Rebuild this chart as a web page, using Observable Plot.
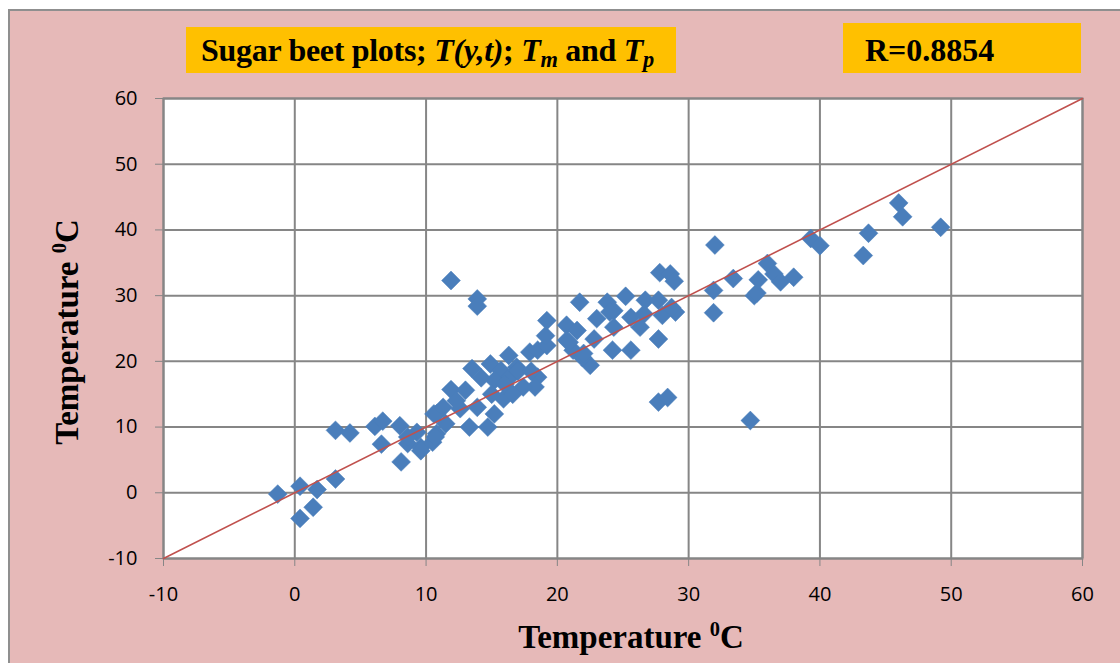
<!DOCTYPE html>
<html>
<head>
<meta charset="utf-8">
<script src="https://cdn.jsdelivr.net/npm/d3@7"></script>
<script src="https://cdn.jsdelivr.net/npm/@observablehq/plot@0.6"></script>
<style>
  html, body { margin: 0; padding: 0; background: #ffffff; }
  #wrap { position: relative; width: 1120px; height: 663px; overflow: hidden; background: #ffffff; }
  #panel { position: absolute; left: 8px; top: 9px; width: 1112px; height: 654px;
           background: #e6b9b8; border-top: 2px solid #8f8f8f; border-left: 2px solid #8f8f8f; box-sizing: border-box; }
  #chart { position: absolute; left: 0; top: 0; }
  .box { position: absolute; background: #ffc000; font-family: "Liberation Serif", "Times New Roman", serif;
         font-weight: bold; color: #000; white-space: nowrap; }
  #t1 { left: 186px; top: 27px; width: 490px; height: 46px; font-size: 32px; line-height: 46px; padding-left: 15px; box-sizing: border-box; letter-spacing: -0.3px; }
  #t2 { left: 843px; top: 23px; width: 238px; height: 50px; font-size: 32px; line-height: 54px; padding-left: 22px; box-sizing: border-box; }
  .axt { position: absolute; font-family: "Liberation Serif", "Times New Roman", serif; font-weight: bold;
         font-size: 33px; color: #000; white-space: nowrap; }
  #xt { left: 631px; top: 637px; transform: translate(-50%, -50%); }
  #yt { left: 67px; top: 332px; transform: translate(-50%, -50%) rotate(-90deg); }
  sup { font-size: 0.62em; vertical-align: 0.55em; line-height: 0; }
  sub { font-size: 0.7em; vertical-align: -0.25em; line-height: 0; }
</style>
</head>
<body>
<div id="wrap">
  <div id="panel"></div>
  <div id="chart"></div>
  <div class="box" id="t1">Sugar beet plots; <i>T(y,t)</i>; <i>T<sub>m</sub></i> and <i>T<sub>p</sub></i></div>
  <div class="box" id="t2">R=0.8854</div>
  <div class="axt" id="xt">Temperature <sup>0</sup>C</div>
  <div class="axt" id="yt">Temperature <sup>0</sup>C</div>
</div>
<script>
const obsX = [
  -1.3, 0.4, 1.7, 1.4, 0.4, 3.1,
  3.1, 4.2, 6.1, 6.7, 6.6, 8.0, 8.1, 8.6, 9.6, 9.3, 10.5, 10.8, 10.8, 9.6, 8.6, 10.7, 10.6,
  11.9, 13.3, 14.7, 15.2, 11.9, 13.9, 13.9,
  13.0, 11.3, 12.6, 13.9,
  13.5, 14.9, 15.7, 16.3, 16.9, 17.9, 18.5, 19.2, 18.5, 18.3, 17.4, 16.4, 15.2, 15.9,
  19.2, 19.1,
  14.2, 16.0, 17.0, 15.0, 12.3, 11.5, 16.6, 18.0,
  20.7, 21.5, 21.7, 23.8, 25.2, 24.3, 23.0, 24.3, 26.7, 27.8, 28.6, 28.9,
  27.7, 29.0, 26.6, 26.3, 27.7, 25.6, 24.2, 22.5, 20.7, 21.2, 21.9, 27.7, 28.4,
  20.9, 24.0, 28.0, 28.7, 22.0, 22.8, 25.6,
  32.0, 31.9, 31.9, 33.4, 35.0, 35.2, 35.3, 36.0, 36.5, 37.0, 38.0, 39.3, 40.0,
  43.7, 43.3, 46.0, 46.3, 49.2, 34.7
];
const predY = [
  -0.2, 1.0, 0.5, -2.2, -3.9, 2.1,
  9.5, 9.1, 10.1, 10.9, 7.4, 10.2, 4.7, 7.5, 6.9, 9.2, 7.7, 9.0, 12.0, 6.4, 8.5, 8.5, 12.0,
  15.7, 10.0, 10.0, 12.0, 32.3, 29.5, 28.4,
  15.6, 13.0, 12.8, 13.0,
  18.9, 19.6, 18.6, 20.9, 19.1, 21.4, 21.7, 22.4, 17.6, 16.1, 16.1, 17.6, 17.1, 14.3,
  26.2, 23.9,
  17.5, 16.5, 18.5, 15.0, 14.0, 10.5, 15.0, 18.5,
  25.5, 24.7, 29.0, 29.0, 29.9, 27.7, 26.5, 25.2, 29.3, 33.5, 33.3, 32.2,
  29.3, 27.5, 27.2, 25.2, 23.4, 21.7, 21.7, 19.4, 23.2, 21.7, 20.6, 13.8, 14.5,
  22.9, 27.5, 27.0, 28.2, 21.2, 23.4, 26.7,
  37.7, 30.8, 27.4, 32.6, 30.0, 30.4, 32.4, 34.9, 33.3, 32.1, 32.8, 38.7, 37.6,
  39.5, 36.1, 44.1, 42.0, 40.4, 11.0
];
// 1:1 reference line endpoints
const lineX = [-10, 60];
const lineY = [-10, 60];
// Tick values
const xTicks = [-10, 0, 10, 20, 30, 40, 50, 60];
const yTicks = [-10, 0, 10, 20, 30, 40, 50, 60];

const points = obsX.map((x, i) => ({x, y: predY[i]}));
const refLine = lineX.map((x, i) => ({x, y: lineY[i]}));

const grid = "#868686";
const fmt = d => String(d);
const chart = Plot.plot({
  width: 1120,
  height: 663,
  marginLeft: 163,
  marginRight: 38,
  marginTop: 98,
  marginBottom: 105,
  x: {domain: [-10, 60]},
  y: {domain: [-10, 60]},
  style: {background: "transparent", fontFamily: "'Open Sans', sans-serif", fontSize: "20px", color: "#000", overflow: "visible"},
  marks: [
    Plot.frame({fill: "white", stroke: null}),
    Plot.gridX(xTicks, {stroke: grid, strokeOpacity: 1, strokeWidth: 2}),
    Plot.gridY(yTicks, {stroke: grid, strokeOpacity: 1, strokeWidth: 2}),
    Plot.frame({stroke: grid, strokeWidth: 2}),
    Plot.axisX(xTicks, {tickSize: 8, tickPadding: 20, stroke: grid, strokeOpacity: 1, fill: "#000", label: null, fontSize: 20, tickFormat: fmt}),
    Plot.axisY(yTicks, {tickSize: 8, tickPadding: 18, stroke: grid, strokeOpacity: 1, fill: "#000", label: null, fontSize: 20, tickFormat: fmt}),
    Plot.dot(points, {x: "x", y: "y", symbol: "diamond2", r: 8.5, fill: "#4a7ebb", stroke: "#4a7ebb", strokeWidth: 0.5}),
    Plot.line(refLine, {x: "x", y: "y", stroke: "#c0504d", strokeWidth: 1.6})
  ]
});
document.getElementById("chart").appendChild(chart);
</script>
</body>
</html>
